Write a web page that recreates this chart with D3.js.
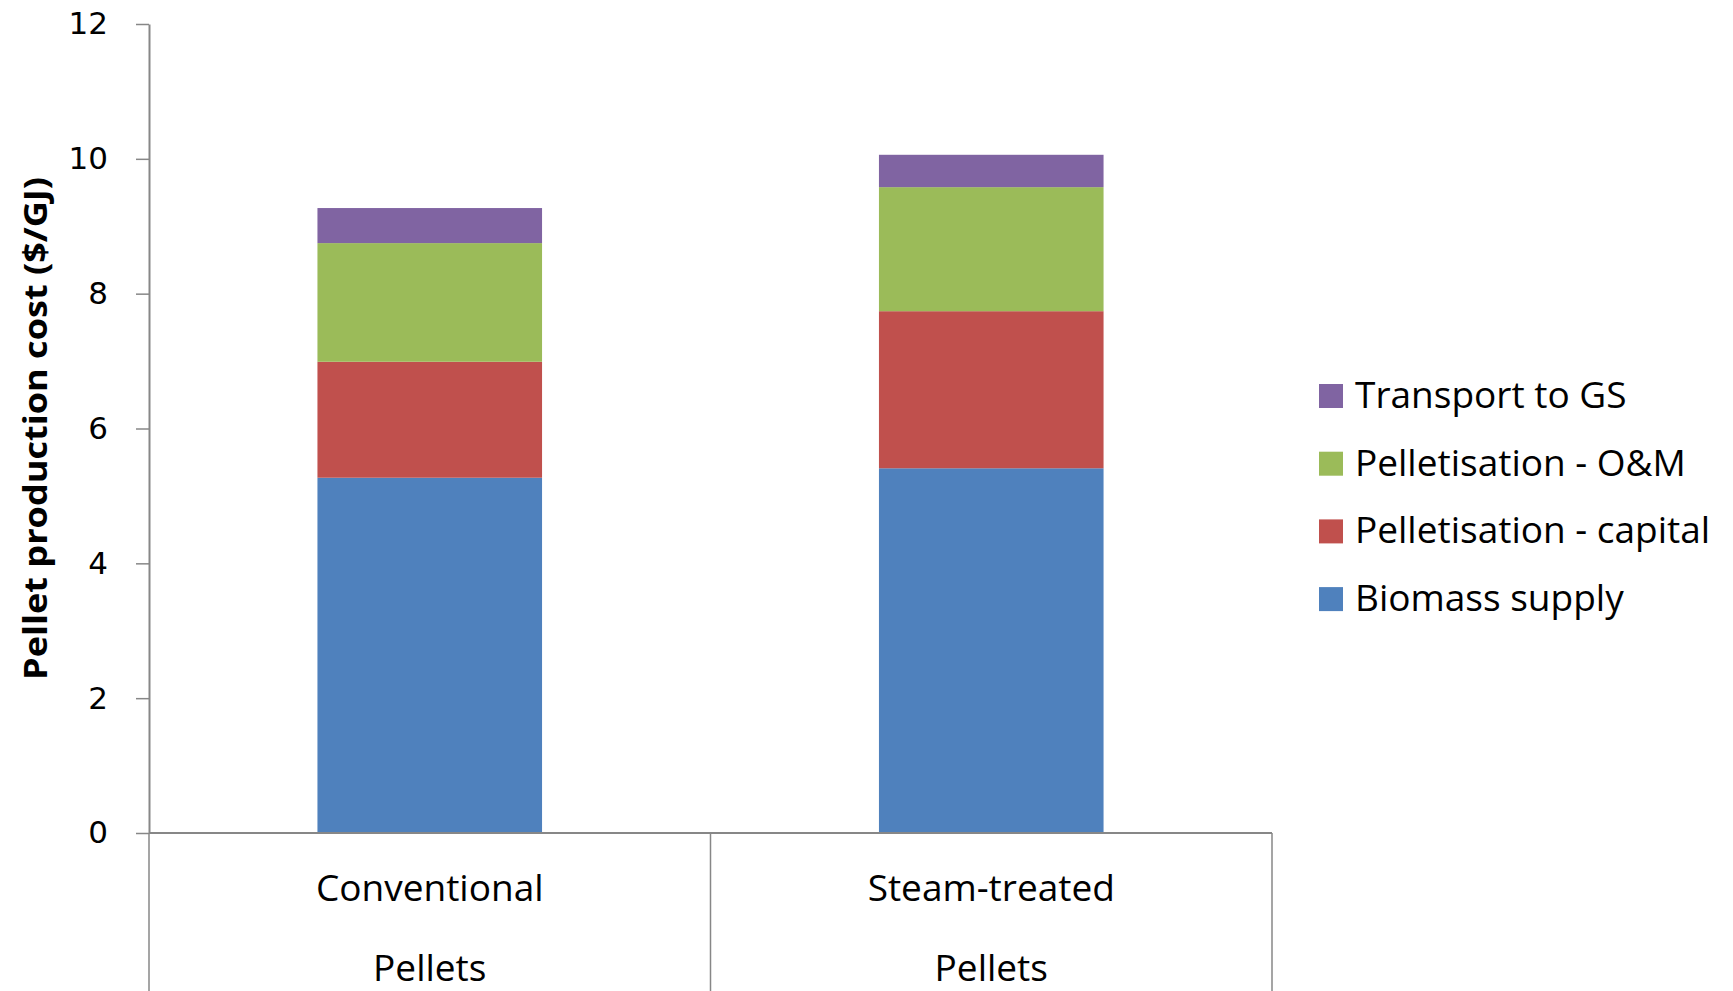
<!DOCTYPE html>
<html>
<head>
<meta charset="utf-8">
<script src="https://cdn.jsdelivr.net/npm/d3@7"></script>
<style>
  body { margin: 0; background: #fff; }
</style>
</head>
<body>
<svg id="chart" width="1733" height="991"></svg>
<script>
// === data ===
const categories = ["Conventional Pellets", "Steam-treated Pellets"];
const categoryLines = [["Conventional", "Pellets"], ["Steam-treated", "Pellets"]];
const seriesNames = ["Biomass supply", "Pelletisation - capital", "Pelletisation - O&M", "Transport to GS"];
const biomassSupply = [5.27, 5.41];
const pelletCapital = [1.72, 2.33];
const pelletOM = [1.76, 1.84];
const transportGS = [0.52, 0.48];
const yTicks = [0, 2, 4, 6, 8, 10, 12];
const yTitle = "Pellet production cost ($/GJ)";

const seriesColors = ["#4F81BD", "#C0504D", "#9BBB59", "#8064A2"];
const axisColor = "#878787";

const svg = d3.select("#chart");
const width = +svg.attr("width");
const height = +svg.attr("height");
const margin = { top: 24, right: 461, bottom: 158, left: 149 };

// build table for the stack
const seriesValues = [biomassSupply, pelletCapital, pelletOM, transportGS];
const table = categories.map((c, i) => {
  const row = { category: c };
  seriesNames.forEach((s, j) => row[s] = seriesValues[j][i]);
  return row;
});
const stacked = d3.stack().keys(seriesNames)(table);

const x = d3.scaleBand()
  .domain(categories)
  .range([margin.left, width - margin.right])
  .paddingInner(0)
  .paddingOuter(0);

const y = d3.scaleLinear()
  .domain([0, 12])
  .range([height - margin.bottom, margin.top]);

const color = d3.scaleOrdinal().domain(seriesNames).range(seriesColors);

const barWidth = x.bandwidth() * 0.4; // gap width 150%

// === bars ===
svg.append("g")
  .selectAll("g")
  .data(stacked)
  .enter()
  .append("g")
  .attr("fill", d => color(d.key))
  .selectAll("rect")
  .data(d => d)
  .enter()
  .append("rect")
  .attr("x", d => x(d.data.category) + (x.bandwidth() - barWidth) / 2)
  .attr("y", d => y(d[1]))
  .attr("width", barWidth)
  .attr("height", d => y(d[0]) - y(d[1]));

// === y axis ===
const yAxis = svg.append("g")
  .attr("transform", `translate(${margin.left},0)`)
  .call(d3.axisLeft(y).tickValues(yTicks).tickSize(13).tickSizeOuter(0).tickPadding(28));

yAxis.select(".domain").attr("stroke", axisColor).attr("stroke-width", 2);
yAxis.selectAll(".tick line").attr("stroke", axisColor).attr("stroke-width", 1.5);
yAxis.selectAll(".tick text")
  .attr("fill", "#000")
  .attr("font-family", "DejaVu Sans, sans-serif")
  .attr("font-size", 31);

// === x axis with category dividers ===
svg.append("line")
  .attr("x1", margin.left)
  .attr("x2", width - margin.right)
  .attr("y1", y(0))
  .attr("y2", y(0))
  .attr("stroke", axisColor)
  .attr("stroke-width", 2);

const dividers = categories.map(c => x(c)).concat([x(categories[categories.length - 1]) + x.bandwidth()]);
svg.append("g")
  .selectAll("line")
  .data(dividers)
  .enter()
  .append("line")
  .attr("x1", d => d)
  .attr("x2", d => d)
  .attr("y1", y(0))
  .attr("y2", height)
  .attr("stroke", axisColor)
  .attr("stroke-width", 1.5);

const xLabels = svg.append("g")
  .selectAll("text")
  .data(categories)
  .enter()
  .append("text")
  .attr("x", d => x(d) + x.bandwidth() / 2)
  .attr("text-anchor", "middle")
  .attr("font-family", "Open Sans, sans-serif")
  .attr("font-size", 37)
  .attr("fill", "#000");

xLabels.append("tspan")
  .attr("x", d => x(d) + x.bandwidth() / 2)
  .attr("y", y(0) + 68)
  .text((d, i) => categoryLines[i][0]);
xLabels.append("tspan")
  .attr("x", d => x(d) + x.bandwidth() / 2)
  .attr("y", y(0) + 148)
  .text((d, i) => categoryLines[i][1]);

// === y title (condensed bold, like the original) ===
svg.append("text")
  .attr("transform", `translate(47, ${(y(0) + y(12)) / 2}) rotate(-90)`)
  .attr("text-anchor", "middle")
  .attr("font-family", "Liberation Sans Narrow, Open Sans, sans-serif")
  .attr("font-weight", "bold")
  .attr("font-size", 33)
  .attr("textLength", 503)
  .attr("lengthAdjust", "spacingAndGlyphs")
  .attr("fill", "#000")
  .text(yTitle);

// === legend ===
const legendItems = seriesNames.slice().reverse();
const legend = svg.append("g")
  .attr("transform", "translate(1319, 384)");

const legendRow = legend.selectAll("g")
  .data(legendItems)
  .enter()
  .append("g")
  .attr("transform", (d, i) => `translate(0, ${i * 67.7})`);

legendRow.append("rect")
  .attr("width", 24)
  .attr("height", 24)
  .attr("fill", d => color(d));

legendRow.append("text")
  .attr("x", 36)
  .attr("y", 24)
  .attr("font-family", "Open Sans, sans-serif")
  .attr("font-size", 37)
  .attr("fill", "#000")
  .text(d => d);
</script>
</body>
</html>
